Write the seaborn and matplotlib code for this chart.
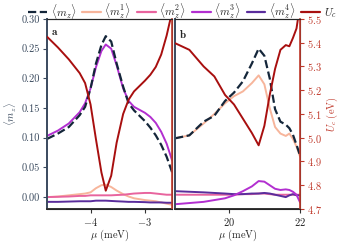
import numpy as np
import pandas as pd
import matplotlib
matplotlib.use("Agg")
import matplotlib.pyplot as plt
import seaborn as sns

# panel a: mu in meV
mu_a = [-4.8, -4.6, -4.4, -4.2, -4.1, -4.0, -3.9, -3.8, -3.72, -3.62,
        -3.52, -3.4, -3.3, -3.2, -3.0, -2.9, -2.8, -2.7, -2.6, -2.5]
mz_a = [0.098, 0.107, 0.118, 0.138, 0.152, 0.183, 0.225, 0.256, 0.271, 0.262,
        0.225, 0.186, 0.158, 0.146, 0.128, 0.117, 0.104, 0.088, 0.068, 0.042]
m1_a = [0.0, 0.001, 0.003, 0.005, 0.006, 0.008, 0.015, 0.020, 0.021, 0.017,
        0.011, 0.005, 0.001, -0.002, -0.005, -0.006, -0.007, -0.009, -0.011, -0.013]
m2_a = [0.0, 0.0005, 0.001, 0.002, 0.002, 0.003, 0.003, 0.003, 0.003, 0.003,
        0.0035, 0.004, 0.005, 0.006, 0.007, 0.007, 0.006, 0.005, 0.004, 0.004]
m3_a = [0.103, 0.112, 0.124, 0.143, 0.158, 0.183, 0.219, 0.246, 0.257, 0.250,
        0.222, 0.183, 0.162, 0.152, 0.142, 0.135, 0.125, 0.110, 0.090, 0.062]
m4_a = [-0.008, -0.008, -0.0075, -0.007, -0.007, -0.007, -0.006, -0.006, -0.006, -0.0065,
        -0.007, -0.0075, -0.008, -0.008, -0.0085, -0.009, -0.009, -0.009, -0.0095, -0.0095]
uc_a = [5.425, 5.38, 5.33, 5.272, 5.23, 5.14, 4.993, 4.854, 4.777, 4.84,
        4.979, 5.10, 5.16, 5.195, 5.24, 5.265, 5.298, 5.35, 5.43, 5.53]

# panel b
mu_b = [18.5, 18.9, 19.3, 19.6, 19.9, 20.15, 20.4, 20.65, 20.84, 21.0,
        21.15, 21.3, 21.45, 21.6, 21.7, 21.8, 21.9, 22.0]
mz_b = [0.099, 0.104, 0.127, 0.137, 0.162, 0.176, 0.195, 0.225, 0.250, 0.238,
        0.200, 0.148, 0.127, 0.122, 0.116, 0.105, 0.088, 0.070]
m1_b = [0.099, 0.104, 0.124, 0.140, 0.158, 0.170, 0.178, 0.192, 0.205, 0.190,
        0.150, 0.118, 0.107, 0.103, 0.107, 0.098, 0.085, 0.068]
m2_b = [0.004, 0.004, 0.004, 0.004, 0.004, 0.004, 0.005, 0.005, 0.006, 0.006,
        0.005, 0.004, 0.004, 0.004, 0.004, 0.004, 0.004, 0.004]
m3_b = [-0.012, -0.010, -0.008, -0.005, -0.002, 0.003, 0.010, 0.018, 0.027, 0.026,
        0.020, 0.014, 0.012, 0.013, 0.012, 0.009, 0.004, -0.009]
m4_b = [0.010, 0.009, 0.008, 0.007, 0.006, 0.005, 0.005, 0.006, 0.006, 0.007,
        0.006, 0.004, 0.002, 0.0, 0.003, 0.005, 0.003, 0.003]
uc_b = [5.398, 5.37, 5.30, 5.258, 5.18, 5.14, 5.08, 5.02, 4.968, 5.05,
        5.18, 5.29, 5.37, 5.39, 5.385, 5.42, 5.46, 5.56]

labels = [r"$\langle m_z\rangle$", r"$\langle m_z^1\rangle$", r"$\langle m_z^2\rangle$",
          r"$\langle m_z^3\rangle$", r"$\langle m_z^4\rangle$", r"$U_c$"]
colors = ["#14263a", "#f7b59b", "#e8649e", "#b22fd0", "#5a2d9c", "#a80f0f"]

sns.set_style("ticks")
plt.rcParams.update({
    "font.family": "serif",
    "font.serif": ["cmr10", "DejaVu Serif"],
    "mathtext.fontset": "cm",
    "axes.formatter.use_mathtext": True,
    "font.size": 7.5,
})

slate = "#3a4a5e"
red = "#c0392b"

fig, axes = plt.subplots(1, 2, figsize=(3.41, 2.43), dpi=100, sharey=True)
fig.subplots_adjust(left=0.138, right=0.88, bottom=0.14, top=0.922, wspace=0.024)

panels = [(mu_a, [mz_a, m1_a, m2_a, m3_a, m4_a], uc_a, (-4.8, -2.5), [-4, -3], "a"),
          (mu_b, [mz_b, m1_b, m2_b, m3_b, m4_b], uc_b, (18.5, 22.0), [20, 22], "b")]

handles = []
for i, (ax, (mu, ms, uc, xl, xt, tag)) in enumerate(zip(axes, panels)):
    # small components first, total on top
    order = [1, 2, 4, 3, 0]
    for k in order:
        ls = "--" if k == 0 else "-"
        sns.lineplot(x=mu, y=ms[k], ax=ax, color=colors[k], linestyle=ls,
                     lw=1.6 if k == 0 else 1.4, dashes=(3, 1.6) if k == 0 else None)
    twin = ax.twinx()
    sns.lineplot(x=mu, y=uc, ax=twin, color=colors[5], lw=1.4)
    twin.set_ylim(4.7, 5.5)
    twin.set_ylabel("")
    ax.set_xlim(*xl)
    ax.set_xticks(xt)
    ax.set_ylim(-0.02, 0.30)
    ax.set_xlabel(r"$\mu\ (\mathrm{meV})$", labelpad=0)
    ax.text(0.03, 0.955, r"$\mathbf{" + tag + "}$", transform=ax.transAxes,
            va="top", ha="left", fontsize=8)
    for s in ["left", "bottom"]:
        ax.spines[s].set_linewidth(1.4)
    ax.spines["bottom"].set_color("#333333")
    ax.spines["left"].set_color(slate)
    twin.spines["right"].set_color(red)
    twin.spines["right"].set_linewidth(1.2)
    twin.spines["left"].set_visible(False)
    ax.tick_params(axis="x", colors="#333333", labelcolor="#222222", length=3, pad=2)
    if i == 0:
        ax.set_ylabel(r"$\langle m_z\rangle$", color=slate, labelpad=2)
        ax.tick_params(axis="y", colors=slate, labelcolor=slate, length=3, pad=2)
        twin.set_yticks([])
    else:
        ax.tick_params(axis="y", length=0, labelleft=False)
        twin.set_ylabel(r"$U_c\ (\mathrm{eV})$", color=red, labelpad=2)
        twin.tick_params(axis="y", colors=red, labelcolor=red, length=3, pad=2)
        twin.set_yticks([4.7, 4.8, 4.9, 5.0, 5.1, 5.2, 5.3, 5.4, 5.5])

axes[0].set_yticks([0.0, 0.05, 0.10, 0.15, 0.20, 0.25, 0.30])
axes[0].set_yticklabels(["0.00", "0.05", "0.10", "0.15", "0.20", "0.25", "0.30"])

for k in range(6):
    ls = "--" if k == 0 else "-"
    handles.append(plt.Line2D([], [], color=colors[k], lw=1.6, linestyle=ls))
fig.legend(handles, labels, loc="upper center", bbox_to_anchor=(0.535, 1.02), ncol=6,
           frameon=False, handlelength=1.7, handletextpad=0.3, columnspacing=0.55,
           fontsize=8, borderaxespad=0.2)

fig.savefig("out.png", dpi=100)
